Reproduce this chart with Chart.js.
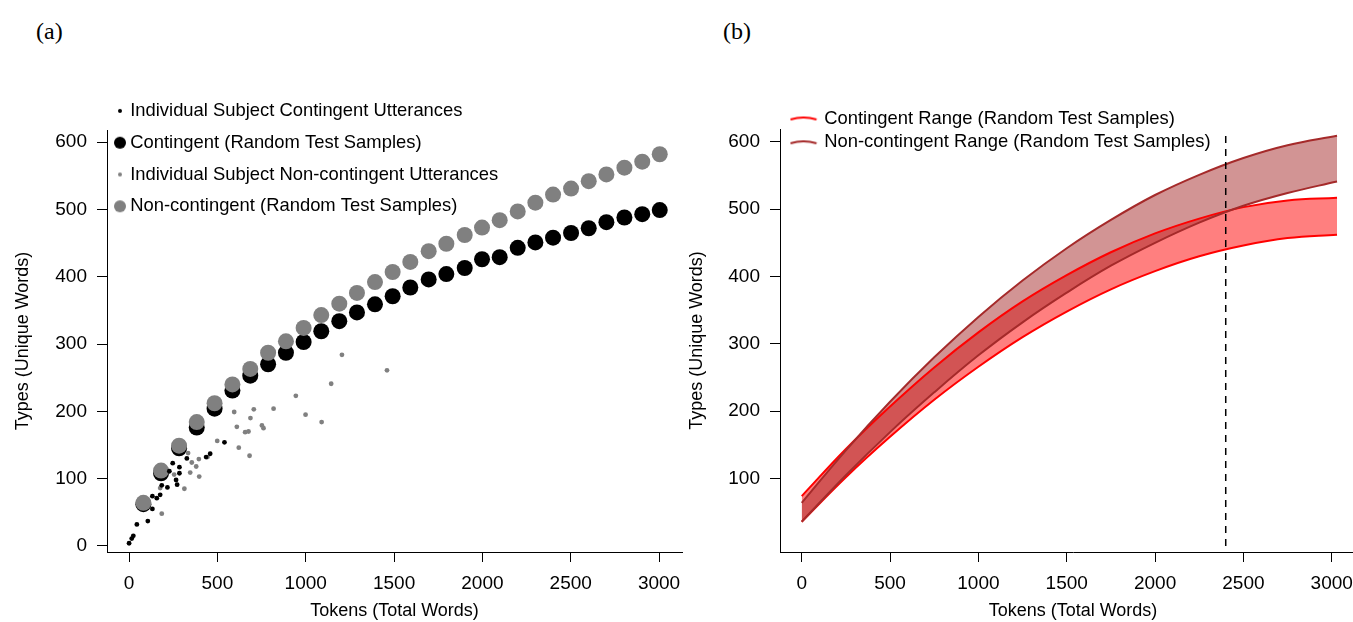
<!DOCTYPE html>
<html>
<head>
<meta charset="utf-8">
<title>Types vs tokens</title>
<script src="https://cdn.jsdelivr.net/npm/chart.js@4.4.1/dist/chart.umd.min.js"></script>
<style>
  html, body { margin: 0; padding: 0; background: #fff; }
  body { width: 1353px; height: 622px; position: relative; overflow: hidden; }
  .panel-label { position: absolute; top: 19px; font-family: 'Liberation Serif', 'Times New Roman', serif; font-size: 24px; line-height: 24px; color: #000; }
  #chart-a { position: absolute; left: 0; top: 0; }
  #chart-b { position: absolute; left: 676px; top: 0; }
</style>
</head>
<body>
<div class="panel-label" style="left:36px">(a)</div>
<div class="panel-label" style="left:723px">(b)</div>
<canvas id="chart-a" width="700" height="622"></canvas>
<canvas id="chart-b" width="720" height="622"></canvas>
<script>
// Panel (a): random test samples
let sampleTokens = [81, 181, 283, 383, 484, 585, 686, 787, 888, 988, 1088, 1190, 1290, 1392, 1492, 1592, 1696, 1796, 1900, 1998, 2098, 2200, 2300, 2400, 2502, 2602, 2702, 2804, 2905, 3004];
let contingentTypes = [62, 108, 145, 176, 204, 231, 253, 270, 287, 303, 319, 334, 347, 359, 371, 384, 396, 404, 413, 426, 429, 443, 451, 458, 465, 472, 481, 488, 493, 499];
let nonContingentTypes = [64, 112, 149, 184, 212, 240, 263, 287, 304, 324, 343, 360, 376, 392, 407, 422, 438, 449, 462, 473, 484, 497, 510, 522, 531, 542, 552, 562, 571, 582];

// Panel (a): individual subjects
let subjContTokens = [0, 15, 24, 44, 106, 132, 132, 157, 176, 185, 217, 228, 247, 266, 272, 285, 285, 327, 436, 459, 540];
let subjContTypes = [4, 11, 15, 32, 37, 55, 74, 71, 76, 90, 87, 111, 123, 98, 91, 117, 108, 130, 132, 137, 154];
let subjNonContTokens = [185, 176, 255, 313, 334, 346, 355, 380, 397, 395, 444, 499, 595, 610, 621, 657, 676, 682, 687, 706, 752, 761, 818, 944, 999, 1090, 1144, 1205, 1460];
let subjNonContTypes = [48, 86, 106, 85, 138, 109, 124, 118, 103, 129, 132, 156, 199, 177, 146, 169, 170, 134, 190, 203, 179, 175, 204, 223, 195, 184, 241, 284, 261];

// Panel (b): ranges
let rangeTokens = [0, 250, 500, 750, 1000, 1250, 1500, 1750, 2000, 2250, 2500, 2750, 3030];
let contUpper = [74, 144, 207, 265, 317, 363, 402, 436, 464, 486, 503, 513, 517];
let contLower = [36, 102, 162, 217, 266, 310, 348, 381, 408, 430, 446, 457, 462];
let nonContUpper = [64, 142, 214, 280, 340, 394, 442, 484, 521, 551, 576, 595, 609];
let nonContLower = [36, 105, 169, 228, 283, 332, 376, 416, 450, 480, 505, 524, 541];
let cutoffToken = 2400;
let cutoffTypes = [0, 610];

// Tick labels
let xTicks = [0, 500, 1000, 1500, 2000, 2500, 3000];
let yTicksA = [0, 100, 200, 300, 400, 500, 600];
let yTicksB = [100, 200, 300, 400, 500, 600];

Chart.defaults.font.family = "'Liberation Sans', Arial, Helvetica, sans-serif";
Chart.defaults.font.size = 18;
Chart.defaults.color = '#000';

function toPoints(xs, ys) {
  return xs.map((x, i) => ({ x: x, y: ys[i] }));
}

//=======================================
//  Legend markers
//=======================================
function dotMarker(radius, color) {
  let c = document.createElement('canvas');
  let size = Math.ceil(radius * 2) + 2;
  c.width = size;
  c.height = size;
  let g = c.getContext('2d');
  g.fillStyle = color;
  g.beginPath();
  g.arc(size / 2, size / 2, radius, 0, Math.PI * 2);
  g.fill();
  return c;
}

function lineMarker(color) {
  let c = document.createElement('canvas');
  c.width = 28;
  c.height = 8;
  let g = c.getContext('2d');
  g.strokeStyle = color;
  g.lineWidth = 2;
  g.beginPath();
  g.moveTo(1, 5);
  g.quadraticCurveTo(14, 1, 27, 5);
  g.stroke();
  return c;
}

// put the legend where it sits in the figure (partly above the plot)
function legendAt(left, top) {
  return {
    id: 'legendAt',
    afterUpdate(chart) {
      let legend = chart.legend;
      legend.left = left;
      legend.top = top;
      legend.right = left + 600;
      legend.bottom = top + 300;
    }
  };
}

function axisStyle(ticks, min, max, title, titlePad) {
  return {
    type: 'linear',
    min: min,
    max: max,
    afterBuildTicks: scale => { scale.ticks = ticks.map(v => ({ value: v })); },
    grid: { drawOnChartArea: false, drawTicks: true, tickLength: 10, color: '#000', lineWidth: 1 },
    border: { display: true, color: '#000', width: 1 },
    ticks: { padding: 10, color: '#000', font: { size: 19 }, callback: v => String(v) },
    title: { display: true, text: title, color: '#000', font: { size: 18 }, padding: { top: titlePad, bottom: 0 } }
  };
}

//=======================================
//  Panel (a)
//=======================================
let grey = '#808080';
let markersA = [dotMarker(2, '#000'), dotMarker(6, '#000'), dotMarker(2, grey), dotMarker(6, grey)];

let xA = axisStyle(xTicks, -125, 3130, 'Tokens (Total Words)', 1);
xA.afterFit = scale => { scale.height = 70; };
let yA = axisStyle(yTicksA, -9, 618, 'Types (Unique Words)', 12);
yA.afterFit = scale => { scale.width = 107; };

new Chart(document.getElementById('chart-a'), {
  type: 'scatter',
  data: {
    datasets: [{
      label: 'Individual Subject Contingent Utterances',
      data: toPoints(subjContTokens, subjContTypes),
      backgroundColor: '#000',
      pointRadius: 2.4,
      pointBorderWidth: 0,
      order: 0
    }, {
      label: 'Contingent (Random Test Samples)',
      data: toPoints(sampleTokens, contingentTypes),
      backgroundColor: '#000',
      pointRadius: 8,
      pointBorderWidth: 0,
      order: 3
    }, {
      label: 'Individual Subject Non-contingent Utterances',
      data: toPoints(subjNonContTokens, subjNonContTypes),
      backgroundColor: grey,
      pointRadius: 2.4,
      pointBorderWidth: 0,
      order: 1
    }, {
      label: 'Non-contingent (Random Test Samples)',
      data: toPoints(sampleTokens, nonContingentTypes),
      backgroundColor: grey,
      pointRadius: 8,
      pointBorderWidth: 0,
      order: 2
    }]
  },
  options: {
    responsive: false,
    animation: false,
    devicePixelRatio: 1,
    layout: { padding: { left: 0, top: 130, right: 18, bottom: 0 } },
    scales: { x: xA, y: yA },
    plugins: {
      tooltip: { enabled: false },
      legend: {
        position: 'chartArea',
        align: 'start',
        labels: {
          usePointStyle: true,
          boxWidth: 2,
          padding: 13.4,
          color: '#000',
          font: { size: 18.4 },
          generateLabels: chart => chart.data.datasets.map((ds, i) => ({
            text: ds.label,
            pointStyle: markersA[i],
            fillStyle: ds.backgroundColor,
            strokeStyle: ds.backgroundColor,
            lineWidth: 0,
            hidden: false,
            datasetIndex: i
          }))
        }
      }
    }
  },
  plugins: [legendAt(105.6, 88.3)]
});

//=======================================
//  Panel (b)
//=======================================
let red = '#FF0000';
let brown = '#A52A2A';
let markersB = [lineMarker(red), lineMarker(brown)];

// axis runs past the right edge of the window, as in the figure
let xB = axisStyle(xTicks, -123, 3194, 'Tokens (Total Words)', 1);
xB.afterFit = scale => { scale.height = 70; };
let yB = axisStyle(yTicksB, -9, 619, 'Types (Unique Words)', 10);
yB.afterFit = scale => { scale.width = 104; };

function rangeLine(label, ys, color, fill, bg, order) {
  return {
    label: label,
    data: toPoints(rangeTokens, ys),
    borderColor: color,
    borderWidth: 2,
    backgroundColor: bg,
    fill: fill,
    pointRadius: 0,
    tension: 0.4,
    order: order
  };
}

new Chart(document.getElementById('chart-b'), {
  type: 'line',
  data: {
    datasets: [
      rangeLine('Contingent Range (Random Test Samples)', contUpper, red, '+1', 'rgba(255, 0, 0, 0.5)', 2),
      rangeLine('Contingent lower', contLower, red, false, 'transparent', 2),
      rangeLine('Non-contingent Range (Random Test Samples)', nonContUpper, brown, '+1', 'rgba(165, 42, 42, 0.5)', 1),
      rangeLine('Non-contingent lower', nonContLower, brown, false, 'transparent', 1),
      {
        label: 'cutoff',
        data: cutoffTypes.map(v => ({ x: cutoffToken, y: v })),
        borderColor: '#000',
        borderWidth: 1.5,
        borderDash: [7, 6],
        pointRadius: 0,
        fill: false,
        order: 0
      }
    ]
  },
  options: {
    responsive: false,
    animation: false,
    devicePixelRatio: 1,
    layout: { padding: { left: 0, top: 129, right: 30, bottom: 0 } },
    scales: { x: xB, y: yB },
    plugins: {
      tooltip: { enabled: false },
      filler: { drawTime: 'beforeDatasetsDraw' },
      legend: {
        position: 'chartArea',
        align: 'start',
        labels: {
          usePointStyle: true,
          pointStyleWidth: 23,
          padding: 5.4,
          color: '#000',
          font: { size: 18.4 },
          generateLabels: chart => [0, 2].map((i, k) => ({
            text: chart.data.datasets[i].label,
            pointStyle: markersB[k],
            fillStyle: chart.data.datasets[i].borderColor,
            strokeStyle: chart.data.datasets[i].borderColor,
            lineWidth: 0,
            hidden: false,
            datasetIndex: i
          }))
        }
      }
    }
  },
  plugins: [legendAt(110.6, 103.9)]
});
</script>
</body>
</html>
